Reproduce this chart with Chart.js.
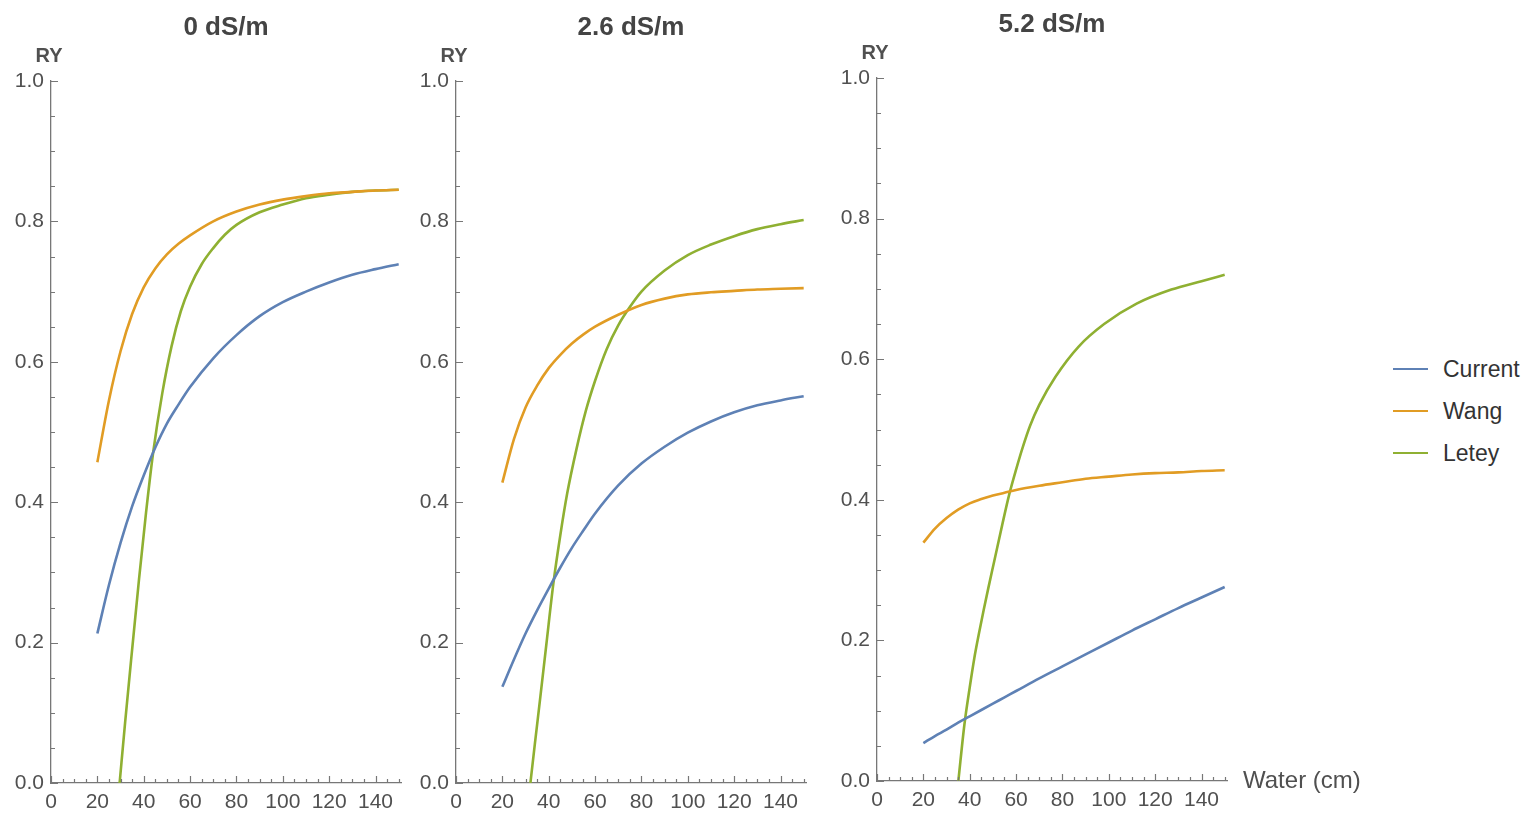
<!DOCTYPE html>
<html>
<head>
<meta charset="utf-8">
<script src="https://cdn.jsdelivr.net/npm/chart.js@4.4.1/dist/chart.umd.min.js"></script>
<style>
body { margin: 0; background: #fff; }
#wrap { position: relative; width: 1528px; height: 815px; overflow: hidden; font-family: "Liberation Sans", Arial, sans-serif; }
.panel { position: absolute; top: 0; height: 815px; }
#legend { position: absolute; left: 1393px; top: 348px; }
.item { height: 42px; display: flex; align-items: center; font-size: 23px; color: #333; }
.swatch { width: 35px; height: 2.5px; margin-right: 15px; }
</style>
</head>
<body>
<div id="wrap">
  <div class="panel" style="left:0;width:420px"><canvas id="c0"></canvas></div>
  <div class="panel" style="left:405px;width:420px"><canvas id="c1"></canvas></div>
  <div class="panel" style="left:826px;width:560px"><canvas id="c2"></canvas></div>
  <div id="legend"></div>
</div>
<script>
const panelTitles = ['0 dS/m', '2.6 dS/m', '5.2 dS/m'];
const seriesNames = ['Current', 'Wang', 'Letey'];
const seriesColors = ['#5E81B5', '#E19C24', '#8FB032'];
const xTicks = [0, 20, 40, 60, 80, 100, 120, 140];
const yTicks = [0, 0.2, 0.4, 0.6, 0.8, 1.0];

// water depth (cm) for Current and Wang
const water = [20, 25, 30, 35, 40, 45, 50, 55, 60, 70, 80, 90, 100, 110, 120, 130, 140, 150];

// 0 dS/m
const current0 = [0.213, 0.282, 0.342, 0.394, 0.438, 0.478, 0.512, 0.539, 0.564, 0.605, 0.638, 0.665, 0.685, 0.700, 0.713, 0.724, 0.732, 0.739];
const wang0 = [0.457, 0.545, 0.615, 0.668, 0.706, 0.733, 0.753, 0.768, 0.780, 0.800, 0.814, 0.824, 0.831, 0.836, 0.840, 0.842, 0.844, 0.845];
const letey0X = [29.6, 32, 35, 38, 41, 44, 48, 52, 56, 60, 65, 70, 75, 80, 90, 100, 110, 120, 130, 140, 150];
const letey0 = [0, 0.087, 0.190, 0.291, 0.385, 0.469, 0.555, 0.622, 0.672, 0.707, 0.739, 0.762, 0.781, 0.795, 0.813, 0.824, 0.833, 0.838, 0.842, 0.844, 0.845];

// 2.6 dS/m
const current1 = [0.137, 0.176, 0.213, 0.246, 0.277, 0.307, 0.335, 0.360, 0.384, 0.424, 0.455, 0.479, 0.499, 0.515, 0.528, 0.538, 0.545, 0.551];
const wang1 = [0.428, 0.490, 0.535, 0.566, 0.591, 0.610, 0.626, 0.639, 0.650, 0.667, 0.681, 0.690, 0.696, 0.699, 0.701, 0.703, 0.704, 0.705];
const letey1X = [32.1, 34, 36.4, 39, 42, 45, 48, 52, 56, 60, 65, 70, 75, 80, 90, 100, 110, 120, 130, 140, 150];
const letey1 = [0, 0.055, 0.123, 0.198, 0.284, 0.353, 0.413, 0.476, 0.530, 0.573, 0.618, 0.652, 0.678, 0.700, 0.730, 0.752, 0.767, 0.779, 0.789, 0.796, 0.802];

// 5.2 dS/m
const current2 = [0.054, 0.064, 0.073, 0.083, 0.092, 0.101, 0.110, 0.119, 0.128, 0.146, 0.163, 0.180, 0.197, 0.214, 0.230, 0.246, 0.261, 0.276];
const wang2 = [0.339, 0.359, 0.374, 0.386, 0.395, 0.401, 0.406, 0.410, 0.414, 0.420, 0.425, 0.430, 0.433, 0.436, 0.438, 0.439, 0.441, 0.442];
const letey2X = [35.1, 37.7, 40, 42, 44, 46, 48, 50.6, 54, 57, 60, 63, 66, 70, 77, 87, 98, 112, 127, 140, 150];
const letey2 = [0, 0.080, 0.133, 0.175, 0.210, 0.243, 0.274, 0.313, 0.364, 0.407, 0.443, 0.476, 0.505, 0.535, 0.575, 0.618, 0.650, 0.679, 0.699, 0.711, 0.720];

const FONT = '"Liberation Sans", Arial, sans-serif';
const axisColor = '#777';
const labelColor = '#505050';

function pts(xs, ys) {
    return xs.map((x, i) => ({ x: x, y: ys[i] }));
}

// inward major/minor ticks plus the RY / Water (cm) labels
const axisDeco = {
    id: 'axisDeco',
    afterDraw(chart, args, opts) {
        const ctx = chart.ctx;
        const a = chart.chartArea;
        const x = chart.scales.x;
        const y = chart.scales.y;
        ctx.save();
        ctx.strokeStyle = axisColor;
        ctx.lineWidth = 1.2;
        ctx.beginPath();
        for (let v = 0; v <= 150; v += 5) {
            const px = Math.round(x.getPixelForValue(v)) + 0.5;
            const len = v % 20 === 0 ? 7 : 4;
            ctx.moveTo(px, a.bottom);
            ctx.lineTo(px, a.bottom - len);
        }
        for (let i = 0; i <= 20; i++) {
            const py = Math.round(y.getPixelForValue(i * 0.05)) + 0.5;
            const len = i % 4 === 0 ? 7 : 4;
            ctx.moveTo(a.left, py);
            ctx.lineTo(a.left + len, py);
        }
        ctx.stroke();

        ctx.fillStyle = labelColor;
        ctx.font = 'bold 20px ' + FONT;
        ctx.textAlign = 'center';
        ctx.textBaseline = 'middle';
        ctx.fillText('RY', a.left - 2, a.top - 25);
        if (opts.xLabel) {
            ctx.font = '24px ' + FONT;
            ctx.textAlign = 'left';
            ctx.fillText(opts.xLabel, a.right + 16, a.bottom);
        }
        ctx.restore();
    }
};

function makeChart(id, idx, cur, wang, letX, letY, cfg) {
    const ctx = document.getElementById(id).getContext('2d');
    const line = (name, data, color) => ({
        label: name,
        data: data,
        borderColor: color,
        borderWidth: 2.6,
        pointRadius: 0,
        fill: false,
        cubicInterpolationMode: 'monotone'
    });
    return new Chart(ctx, {
        type: 'line',
        data: {
            datasets: [
                line(seriesNames[0], pts(water, cur), seriesColors[0]),
                line(seriesNames[1], pts(water, wang), seriesColors[1]),
                line(seriesNames[2], pts(letX, letY), seriesColors[2])
            ]
        },
        options: {
            responsive: true,
            maintainAspectRatio: false,
            animation: false,
            layout: { padding: { right: cfg.padRight } },
            plugins: {
                legend: { display: false },
                tooltip: { enabled: false },
                title: {
                    display: true,
                    fullSize: false,
                    text: panelTitles[idx],
                    color: '#444',
                    font: { family: FONT, size: 26, weight: 'bold', lineHeight: 1.2 },
                    padding: { top: cfg.titleTop, bottom: cfg.titleBottom }
                },
                axisDeco: { xLabel: cfg.xLabel }
            },
            scales: {
                x: {
                    type: 'linear',
                    min: 0,
                    max: 151,
                    afterBuildTicks: s => { s.ticks = xTicks.map(v => ({ value: v })); },
                    afterFit: s => { s.height = cfg.bottomH; },
                    ticks: { color: labelColor, font: { family: FONT, size: 21 }, padding: 7, maxRotation: 0, autoSkip: false },
                    grid: { display: true, drawOnChartArea: false, drawTicks: false },
                    border: { color: axisColor, width: 1.3 }
                },
                y: {
                    min: 0,
                    max: 1,
                    afterBuildTicks: s => { s.ticks = yTicks.map(v => ({ value: v })); },
                    afterFit: s => { s.width = 51; },
                    ticks: { color: labelColor, font: { family: FONT, size: 21 }, padding: 7, callback: v => v.toFixed(1) },
                    grid: { display: true, drawOnChartArea: false, drawTicks: false },
                    border: { color: axisColor, width: 1.3 }
                }
            }
        },
        plugins: [axisDeco]
    });
}

makeChart('c0', 0, current0, wang0, letey0X, letey0, { padRight: 19, titleTop: 12, titleBottom: 37.8, bottomH: 32 });
makeChart('c1', 1, current1, wang1, letey1X, letey1, { padRight: 19, titleTop: 12, titleBottom: 37.8, bottomH: 32 });
makeChart('c2', 2, current2, wang2, letey2X, letey2, { padRight: 159, titleTop: 9, titleBottom: 37.8, bottomH: 34, xLabel: 'Water (cm)' });

const legend = document.getElementById('legend');
seriesNames.forEach((name, i) => {
    const row = document.createElement('div');
    row.className = 'item';
    const sw = document.createElement('span');
    sw.className = 'swatch';
    sw.style.background = seriesColors[i];
    row.appendChild(sw);
    row.appendChild(document.createTextNode(name));
    legend.appendChild(row);
});
</script>
</body>
</html>
